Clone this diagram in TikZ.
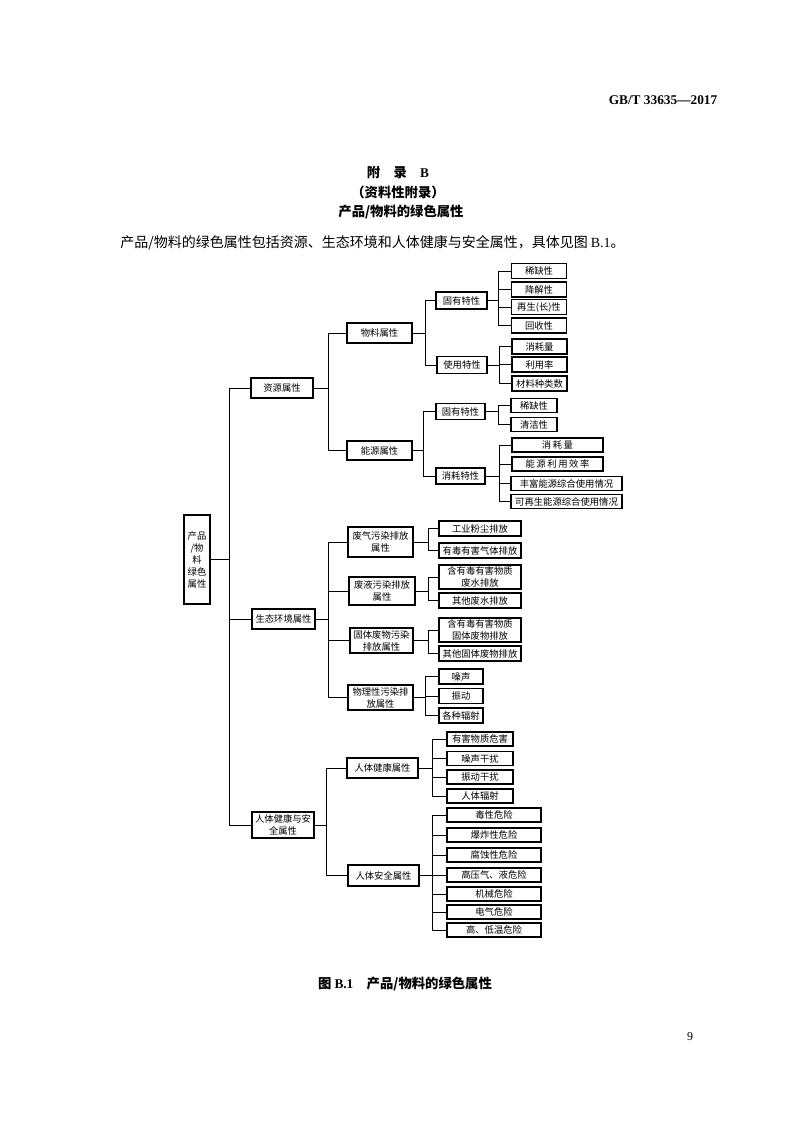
\documentclass[tikz,border=0pt]{standalone}
\usepackage{fontspec}
\setmainfont{Noto Sans CJK SC}
\newfontfamily\lat{Liberation Serif}
\begin{document}
\begin{tikzpicture}[x=0.75pt,y=-0.75pt,
  bx/.style={draw,line width=0.9pt,inner sep=0pt,align=center,font=\fontsize{7pt}{9pt}\selectfont},
  sz/.style 2 args={minimum width=#1*0.75pt,minimum height=#2*0.75pt},
  ln/.style={line width=0.55pt}]
\useasboundingbox (0,0) rectangle (794,1122);
% header texts
\node[anchor=east,font=\lat\bfseries\fontsize{10pt}{12pt}\selectfont] (hdr) at (722,100) {GB/T 33635—2017};
\node[font=\bfseries\fontsize{10pt}{12pt}\selectfont] (t1) at (398,172) {附\quad 录\quad {\lat B}};
\node[font=\bfseries\fontsize{10pt}{12pt}\selectfont] (t2) at (398,192) {（资料性附录）};
\node[font=\bfseries\fontsize{10pt}{12pt}\selectfont] (t3) at (401,212) {产品/物料的绿色属性};
\node[anchor=west,font=\fontsize{10.5pt}{12pt}\selectfont,inner sep=0pt] (body) at (120,243) {产品/物料的绿色属性包括资源、生态环境和人体健康与安全属性，具体见图 {\lat B.1}。};
\node[font=\bfseries\fontsize{10pt}{12pt}\selectfont] (cap) at (405,984) {图 {\lat B.1}\quad 产品/物料的绿色属性};
\node[font=\lat\fontsize{9pt}{11pt}\selectfont] (pg) at (690,1037) {9};

% root
\node[bx,sz={26}{89}] (root) at (197,559.5) {产品\\/物\\料\\绿色\\属性};
% level 1
\node[bx,sz={62}{20}] (zy) at (282,388) {资源属性};
\node[bx,sz={63}{20}] (st) at (283.5,619) {生态环境属性};
\node[bx,sz={62}{26}] (rt) at (283,825) {人体健康与安\\全属性};
\foreach \c in {zy,st,rt} \draw[ln] (root.east) -- ++(19,0) |- (\c.west);

% level 2 under 资源
\node[bx,sz={65}{20}] (wl) at (379.5,333) {物料属性};
\node[bx,sz={65}{19}] (ny) at (379.5,450.5) {能源属性};
\foreach \c in {wl,ny} \draw[ln] (zy.east) -- ++(15,0) |- (\c.west);

% level 3
\node[bx,sz={51}{17}] (gy1) at (461.5,300.5) {固有特性};
\node[bx,sz={50}{17}] (sy) at (462,365) {使用特性};
\foreach \c in {gy1,sy} \draw[ln] (wl.east) -- ++(13,0) |- (\c.west);
\node[bx,sz={49}{16}] (gy2) at (460.5,411.5) {固有特性};
\node[bx,sz={49}{16}] (xh) at (460.5,476) {消耗特性};
\foreach \c in {gy2,xh} \draw[ln] (ny.east) -- ++(11,0) |- (\c.west);

% leaves of 固有特性 1
\foreach \n/\y/\t in {a1/271/稀缺性,a2/289.5/降解性,a3/307/再生(长)性,a4/325.5/回收性}{
  \node[bx,sz={55}{15}] (\n) at (539,\y) {\t};
  \draw[ln] (gy1.east) -- ++(11,0) |- (\n.west);}
% leaves of 使用特性
\foreach \n/\y/\t in {b1/346.5/消耗量,b2/364.5/利用率,b3/383.5/材料种类数}{
  \node[bx,sz={55}{15}] (\n) at (539.5,\y) {\t};
  \draw[ln] (sy.east) -- ++(12,0) |- (\n.west);}
% leaves of 固有特性 2
\foreach \n/\y/\t in {c1/405.5/稀缺性,c2/424.5/清洁性}{
  \node[bx,sz={46}{14}] (\n) at (534,\y) {\t};
  \draw[ln] (gy2.east) -- ++(13,0) |- (\n.west);}
% leaves of 消耗特性
\node[bx,sz={91}{14}] (d1) at (557.5,445) {消\,耗\,量};
\node[bx,sz={91}{14}] (d2) at (557.5,464) {能\,源\,利\,用\,效\,率};
\node[bx,sz={111}{14}] (d3) at (566.5,483.5) {丰富能源综合使用情况};
\node[bx,sz={111}{14}] (d4) at (566.5,501.5) {可再生能源综合使用情况};
\foreach \c in {d1,d2,d3,d4} \draw[ln] (xh.east) -- ++(14,0) |- (\c.west);

% level 2 under 生态环境
\node[bx,sz={65}{30}] (fq) at (380.5,542) {废气污染排放\\属性};
\node[bx,sz={66}{28}] (fy) at (382,591) {废液污染排放\\属性};
\node[bx,sz={63}{25}] (gt) at (381.5,640.5) {固体废物污染\\排放属性};
\node[bx,sz={65}{25}] (wlx) at (380.5,697.5) {物理性污染排\\放属性};
\foreach \c in {fq,fy,gt,wlx} \draw[ln] (st.east) -- ++(13,0) |- (\c.west);

\foreach \n/\y/\h/\t in {e1/528.5/15/工业粉尘排放,e2/550.5/15/有毒有害气体排放}{
  \node[bx,sz={82}{\h}] (\n) at (480,\y) {\t};
  \draw[ln] (fq.east) -- ++(15,0) |- (\n.west);}
\foreach \n/\y/\h/\t in {f1/577/24/{含有毒有害物质\\废水排放},f2/600.5/15/其他废水排放}{
  \node[bx,sz={82}{\h}] (\n) at (480,\y) {\t};
  \draw[ln] (fy.east) -- ++(13,0) |- (\n.west);}
\foreach \n/\y/\h/\t in {g1/630/24/{含有毒有害物质\\固体废物排放},g2/653.5/15/其他固体废物排放}{
  \node[bx,sz={82}{\h}] (\n) at (480,\y) {\t};
  \draw[ln] (gt.east) -- ++(15,0) |- (\n.west);}
\foreach \n/\y/\t in {h1/676.5/噪声,h2/696/振动,h3/715.5/各种辐射}{
  \node[bx,sz={44}{15}] (\n) at (461,\y) {\t};
  \draw[ln] (wlx.east) -- ++(12,0) |- (\n.west);}

% level 2 under 人体健康与安全
\node[bx,sz={71}{20}] (jk) at (382.5,768) {人体健康属性};
\node[bx,sz={71}{21}] (aq) at (383.5,875.5) {人体安全属性};
\foreach \c in {jk,aq} \draw[ln] (rt.east) -- ++(12,0) |- (\c.west);

\foreach \n/\y/\t in {i1/739/有害物质危害,i2/758.5/噪声干扰,i3/777/振动干扰,i4/796/人体辐射}{
  \node[bx,sz={66}{14}] (\n) at (480,\y) {\t};
  \draw[ln] (jk.east) -- ++(14,0) |- (\n.west);}
\foreach \n/\y/\t in {j1/815/毒性危险,j2/835/爆炸性危险,j3/855/腐蚀性危险,j4/875/高压气、液危险,j5/894/机械危险,j6/912/电气危险,j7/930/高、低温危险}{
  \node[bx,sz={94}{14}] (\n) at (494,\y) {\t};
  \draw[ln] (aq.east) -- ++(13,0) |- (\n.west);}
\end{tikzpicture}
\end{document}
